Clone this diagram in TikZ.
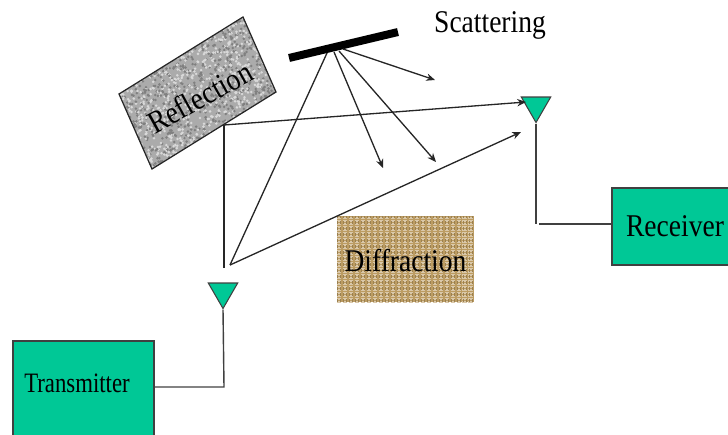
\documentclass[tikz,border=0pt]{standalone}
\usepackage{fontspec}
\setmainfont{Liberation Serif}
\usetikzlibrary{shapes.geometric, arrows.meta}

\definecolor{boxgreen}{HTML}{00C896}
\definecolor{stonegray}{HTML}{ABABAB}
\definecolor{clothtan}{HTML}{BC9C62}

\newcommand{\labeltext}[1]{\scalebox{.87}[1]{\fontsize{18}{20}\selectfont #1}}

\tikzset{
    greenbox/.style={draw=black!75, fill=boxgreen, line width=0.6pt, inner sep=0pt},
    antenna/.style={draw=black!75, fill=boxgreen, line width=0.6pt, inner sep=0pt,
        regular polygon, regular polygon sides=3, shape border rotate=180, minimum size=0.68cm},
    ray/.style={line width=0.75pt, black!85},
    arrowray/.style={ray, -{Stealth[length=5pt,width=4.2pt]}},
    feed/.style={line width=0.8pt, black!75},
}

\begin{document}
\begin{tikzpicture}
    \useasboundingbox (0,0) rectangle (14.56,8.68);

    % speckled stone
    \begin{scope}
        \clip (2.38,6.80) -- (4.86,8.34) -- (5.52,6.84) -- (3.04,5.30) -- cycle;
        \fill[stonegray] (2.38,5.30) rectangle (5.52,8.34);
        \pgfmathsetseed{7}
        \foreach \i in {1,...,1100} {
            \fill[black!50] (2.38+3.14*rnd,5.30+3.04*rnd) circle (0.028);
            \fill[black!15] (2.38+3.14*rnd,5.30+3.04*rnd) circle (0.028);
        }
    \end{scope}
    \draw[line width=0.7pt, black!85] (2.38,6.80) -- (4.86,8.34) -- (5.52,6.84) -- (3.04,5.30) -- cycle;
    \node[rotate=29] at (4.00,6.74) (reflection) {\labeltext{Reflection}};

    % woven cloth
    \begin{scope}
        \clip (6.74,2.64) rectangle (9.48,4.36);
        \fill[clothtan] (6.74,2.64) rectangle (9.48,4.36);
        \foreach \y in {2.64,2.70,...,4.36}
            \draw[white!45!clothtan, line width=0.7pt, dash pattern=on 2.5pt off 0.9pt] (6.74,\y) -- (9.48,\y);
        \foreach \x in {6.74,6.80,...,9.48}
            \draw[black!18!clothtan, line width=0.5pt, dash pattern=on 1.7pt off 1.7pt] (\x,2.64) -- (\x,4.36);
    \end{scope}
    \node at (8.11,3.47) (diffraction) {\labeltext{Diffraction}};

    \node[fill=black, inner sep=0pt, rotate=13.4, minimum width=2.24cm, minimum height=0.16cm] at (6.87,7.78) (scatterer) {};
    \node at (9.8,8.18) (scattering) {\labeltext{Scattering}};

    \node[greenbox, minimum width=2.52cm, minimum height=1.54cm] at (13.5,4.15) (receiver) {\labeltext{Receiver}};
    \node[greenbox, minimum width=2.82cm, minimum height=2.18cm] at (1.67,0.77) (transmitter) {};
    \node at (1.54,1.02) (txlabel) {\scalebox{.81}[1]{\fontsize{16}{18}\selectfont Transmitter}};

    \node[antenna] at (10.72,6.57) (rxant) {};
    \node[antenna] at (4.46,2.85) (txant) {};

    \coordinate (txbend) at (4.48,0.94);
    \coordinate (rxdown) at (10.72,4.20);
    \coordinate (rxbend) at (10.78,4.20);
    \coordinate (wallhit) at (4.48,6.18);
    \coordinate (wallstart) at (4.48,3.32);
    \coordinate (txstart) at (4.60,3.38);
    \coordinate (barhit) at (6.54,7.62);
    \coordinate (out1) at (6.68,7.64);
    \coordinate (out2) at (6.78,7.66);
    \coordinate (out3) at (6.86,7.70);
    \coordinate (tip1) at (7.66,5.32);
    \coordinate (tip2) at (8.72,5.44);
    \coordinate (tip3) at (8.70,7.08);
    \coordinate (rxtip1) at (10.52,6.64);
    \coordinate (rxtip2) at (10.42,6.04);

    \draw[feed] (txant.corner 1) -- (txbend) -- (transmitter.east |- txbend);
    \draw[feed] (rxant.corner 1) -- (rxdown);
    \draw[feed] (rxbend) -- (receiver.west |- rxbend);

    \draw[ray] (wallstart) -- (wallhit);
    \draw[arrowray] (wallhit) -- (rxtip1);
    \draw[arrowray] (txstart) -- (rxtip2);
    \draw[ray] (txstart) -- (barhit);
    \draw[arrowray] (out1) -- (tip1);
    \draw[arrowray] (out2) -- (tip2);
    \draw[arrowray] (out3) -- (tip3);
\end{tikzpicture}
\end{document}
